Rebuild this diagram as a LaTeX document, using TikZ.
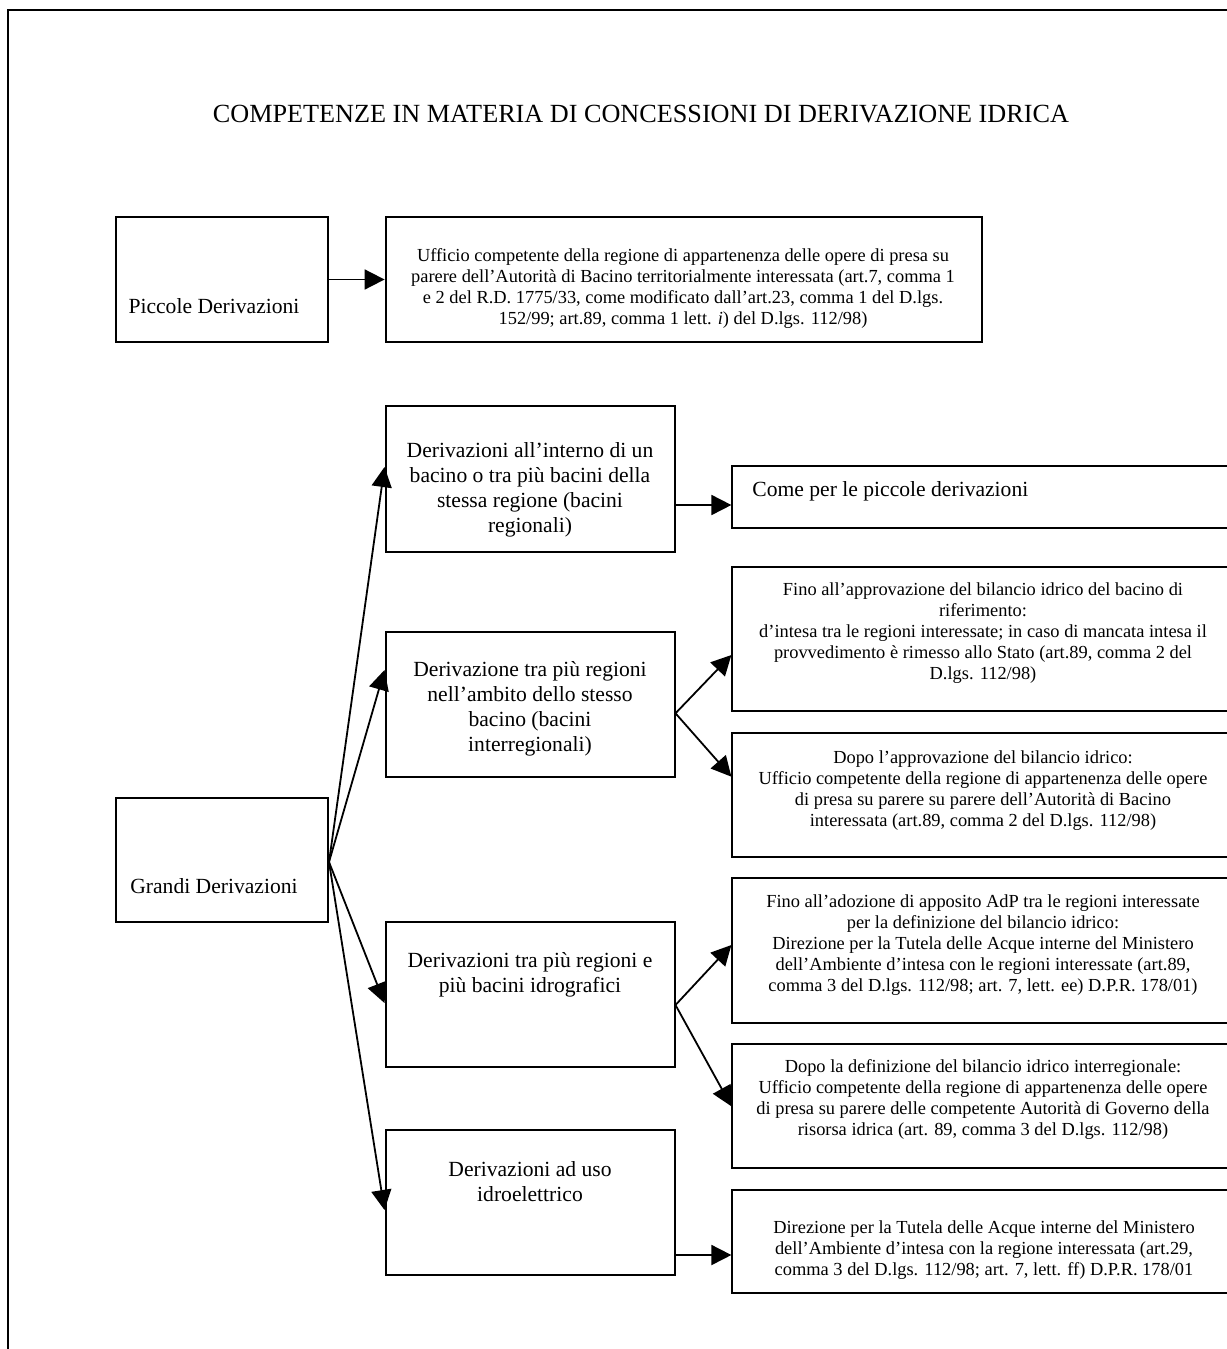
\documentclass[tikz,border=0pt]{standalone}
\usepackage{fontspec}
\setmainfont{Liberation Serif}
\usetikzlibrary{arrows.meta}
\begin{document}
\begin{tikzpicture}[x=0.5pt,y=-0.5pt,
 box/.style={draw, line width=1pt, inner sep=0pt},
 lbox/.style={box, minimum width=106pt},
 mbox/.style={box, minimum width=144.5pt},
 rbox/.style={box, minimum width=251pt},
 big/.style={font=\fontsize{10.8}{12.4}\selectfont, align=center, inner sep=0pt},
 small/.style={font=\fontsize{9.2}{10.5}\selectfont, align=center, inner sep=0pt},
 arr/.style={-{Triangle[length=10pt,width=10pt]}, line width=0.9pt},
 ]
\useasboundingbox (0,0) rectangle (1226,1349);
\draw[line width=1pt] (8,1360) -- (8,10) -- (1240,10);
\node[font=\fontsize{13.1}{15}\selectfont, anchor=base, inner sep=0pt] (title) at (641,122) {COMPETENZE IN MATERIA DI CONCESSIONI DI DERIVAZIONE IDRICA};

% boxes
\node[lbox, minimum height=62.5pt] (pic) at (222,279.5) {};
\node[box, minimum width=298.2pt, minimum height=62.5pt] (uff) at (683.8,279.5) {};
\node[mbox, minimum height=73pt] (int) at (530,479) {};
\node[rbox, minimum height=31.2pt] (come) at (983.4,496.9) {};
\node[mbox, minimum height=72.8pt] (reg) at (530,704.5) {};
\node[rbox, minimum height=72pt] (finoapp) at (983.4,638.7) {};
\node[rbox, minimum height=62pt] (dopoapp) at (983.4,794.7) {};
\node[lbox, minimum height=62pt] (grandi) at (222,860.3) {};
\node[mbox, minimum height=72.5pt] (bac) at (530,994.8) {};
\node[rbox, minimum height=72.5pt] (finoadoz) at (983.4,950.8) {};
\node[rbox, minimum height=62pt] (dopodef) at (983.4,1106.3) {};
\node[mbox, minimum height=72.5pt] (idro) at (530,1202.5) {};
\node[rbox, minimum height=51.7pt] (direz) at (983.4,1241.7) {};

% texts
\node[big] (pic-t) at (214,306) {Piccole Derivazioni};
\node[small] (uff-t) at (683,288.4) {Ufficio competente della regione di appartenenza delle opere di presa su\\
parere dell’Autorità di Bacino territorialmente interessata (art.7, comma 1\\
e 2 del R.D. 1775/33, come modificato dall’art.23, comma 1 del D.lgs.\\
152/99; art.89, comma 1 lett. \textit{i}) del D.lgs. 112/98)};
\node[big] (int-t) at (530,489.7) {Derivazioni all’interno di un\\ bacino o tra più bacini della\\ stessa regione (bacini\\ regionali)};
\node[big, anchor=west] (come-t) at (752,491.7) {Come per le piccole derivazioni};
\node[big] (reg-t) at (530,709) {Derivazione tra più regioni\\ nell’ambito dello stesso\\ bacino (bacini\\ interregionali)};
\node[small] (finoapp-t) at (983,633.3) {Fino all’approvazione del bilancio idrico del bacino di\\ riferimento:\\ d’intesa tra le regioni interessate; in caso di mancata intesa il\\ provvedimento è rimesso allo Stato (art.89, comma 2 del\\ D.lgs. 112/98)};
\node[small] (dopoapp-t) at (983,790.8) {Dopo l’approvazione del bilancio idrico:\\ Ufficio competente della regione di appartenenza delle opere\\ di presa su parere su parere dell’Autorità di Bacino\\ interessata (art.89, comma 2 del D.lgs. 112/98)};
\node[big] (grandi-t) at (214,886) {Grandi Derivazioni};
\node[big] (bac-t) at (530,975) {Derivazioni tra più regioni e\\ più bacini idrografici};
\node[small] (finoadoz-t) at (983,945) {Fino all’adozione di apposito AdP tra le regioni interessate\\ per la definizione del bilancio idrico:\\ Direzione per la Tutela delle Acque interne del Ministero\\ dell’Ambiente d’intesa con le regioni interessate (art.89,\\ comma 3 del D.lgs. 112/98; art. 7, lett. ee) D.P.R. 178/01)};
\node[small] (dopodef-t) at (983,1099.4) {Dopo la definizione del bilancio idrico interregionale:\\ Ufficio competente della regione di appartenenza delle opere\\ di presa su parere delle competente Autorità di Governo della\\ risorsa idrica (art. 89, comma 3 del D.lgs. 112/98)};
\node[big] (idro-t) at (530,1181.7) {Derivazioni ad uso\\ idroelettrico};
\node[small] (direz-t) at (984,1250) {Direzione per la Tutela delle Acque interne del Ministero\\ dell’Ambiente d’intesa con la regione interessata (art.29,\\ comma 3 del D.lgs. 112/98; art. 7, lett. ff) D.P.R. 178/01};

% arrows
\draw[arr] (pic.east) -- (uff.west);
\draw[arr] ([yshift=-13pt]int.east) -- ([yshift=-13pt]int.east -| come.west);
\draw[arr] ([yshift=-4.4pt]reg.east) -- ([yshift=-8.15pt]finoapp.west);
\draw[arr] ([yshift=-4.4pt]reg.east) -- ([yshift=9pt]dopoapp.west);
\draw[arr] ([yshift=-5.1pt]bac.east) -- ([yshift=2.9pt]finoadoz.west);
\draw[arr] ([yshift=-5.1pt]bac.east) -- (dopodef.west);
\draw[arr] ([yshift=-26.25pt]idro.east) -- ([yshift=-26.25pt]idro.east -| direz.west);
\coordinate (fan) at ([yshift=-0.85pt]grandi.east);
\draw[arr] (fan) -- ([yshift=6pt]int.west);
\draw[arr] (fan) -- ([yshift=17.25pt]reg.west);
\draw[arr] (fan) -- ([yshift=-4.1pt]bac.west);
\draw[arr] (fan) -- ([yshift=-3.75pt]idro.west);
\end{tikzpicture}
\end{document}
